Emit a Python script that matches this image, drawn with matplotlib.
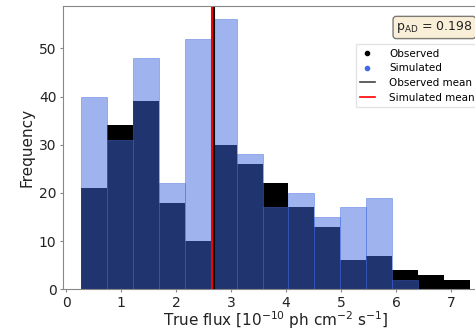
import matplotlib
matplotlib.use("Agg")
import matplotlib.pyplot as plt
import numpy as np

# histogram bins (true flux, 1e-10 ph cm^-2 s^-1)
bin_start = 0.267
bin_width = 0.472
n_bins = 15

observed_counts = [21, 34, 39, 18, 10, 30, 26, 22, 17, 13, 6, 7, 4, 3, 2]
simulated_counts = [40, 31, 48, 22, 52, 56, 28, 17, 20, 15, 17, 19, 2, 0, 0]

observed_mean = 2.69
simulated_mean = 2.65
p_ad = 0.198

edges = bin_start + bin_width * np.arange(n_bins + 1)
centers = edges[:-1] + bin_width / 2

fig = plt.figure(figsize=(4.75, 3.31), dpi=100)
ax = fig.add_axes([0.132, 0.126, 0.899, 0.856])

ax.hist(centers, bins=edges, weights=observed_counts, color="black")
ax.hist(centers, bins=edges, weights=simulated_counts, color="royalblue", alpha=0.5,
        edgecolor="royalblue", linewidth=0.6)

ax.axvline(simulated_mean, color="red", lw=1.5)
ax.axvline(observed_mean, color="black", lw=1.5)

# legend handles
ax.plot([], [], ".", color="black", label="Observed")
ax.plot([], [], ".", color="royalblue", label="Simulated")
ax.plot([], [], "-", color="#444444", lw=1.2, label="Observed mean")
ax.plot([], [], "-", color="red", lw=1.2, label="Simulated mean")

ax.set_xlim(-0.06, 7.7)
ax.set_ylim(0, 58.8)
ax.set_xticks(range(0, 8))
ax.set_yticks(range(0, 60, 10))
for s in ax.spines.values():
    s.set_color("#888888")
ax.tick_params(labelsize=10, length=2.5, pad=2, color="#888888", labelcolor="#222222")
ax.set_xlabel(r"True flux [$10^{-10}$ ph cm$^{-2}$ s$^{-1}$]", fontsize=11, labelpad=0,
              color="#222222")
ax.set_ylabel("Frequency", fontsize=11, labelpad=3, color="#222222")

fig.legend(loc="upper left", bbox_to_anchor=(0.749, 0.866), bbox_transform=fig.transFigure,
           borderaxespad=0, fontsize=7.5, handlelength=1.4, handletextpad=1.4,
           labelspacing=0.45, fancybox=False, edgecolor="#dddddd", borderpad=0.4)

fig.text(0.834, 0.917, r"p$_\mathrm{AD}$ = %.3f" % p_ad, fontsize=9, ha="left", va="center",
         color="#222222",
         bbox=dict(boxstyle="round,pad=0.25", facecolor="wheat", alpha=0.5))

fig.savefig("out.png", dpi=100)
